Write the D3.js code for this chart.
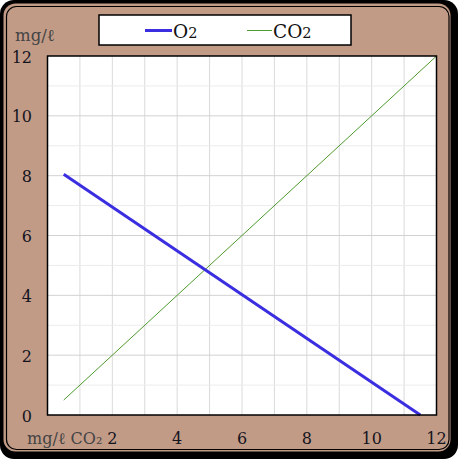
<!DOCTYPE html>
<html><head><meta charset="utf-8">
<script src="https://cdn.jsdelivr.net/npm/d3@7"></script>
<style>html,body{margin:0;padding:0;background:#fff;}svg{display:block;}</style>
</head><body>
<svg id="c" width="458" height="459"></svg>
<script>
const seriesNames = ["O2", "CO2"];
const o2X = [0.5, 11.5];
const o2Y = [8.05, 0];
const co2X = [0.5, 12];
const co2Y = [0.5, 12];
const xTicks = [2, 4, 6, 8, 10, 12];
const yTicks = [0, 2, 4, 6, 8, 10, 12];
const yTitle = "mg/ℓ";
const xTitle = "mg/ℓ CO₂";

const svg = d3.select("#c");
const W = 458, H = 459;
const font = "'DejaVu Serif', serif";

// frame
svg.append("rect").attr("x",0).attr("y",0).attr("width",W).attr("height",H).attr("fill","#fff");
svg.append("rect").attr("x",0).attr("y",0).attr("width",W).attr("height",H).attr("rx",14).attr("fill","#000");
svg.append("rect").attr("x",3.5).attr("y",3.5).attr("width",447).attr("height",448).attr("rx",12).attr("fill","#c29b87");
svg.append("rect").attr("x",6.5).attr("y",6.5).attr("width",442.5).attr("height",443).attr("rx",10)
  .attr("fill","none").attr("stroke","#000").attr("stroke-width",1.2);

const L = 47.5, R = 436.5, T = 56, B = 415;
const x = d3.scaleLinear().domain([0,12]).range([L,R]);
const y = d3.scaleLinear().domain([0,12]).range([B,T]);

svg.append("rect").attr("x",L).attr("y",T).attr("width",R-L).attr("height",B-T).attr("fill","#fff");

const g = svg.append("g");
// grid
g.selectAll(".vg").data(d3.range(1,12)).join("line")
  .attr("x1",d=>x(d)).attr("x2",d=>x(d)).attr("y1",T).attr("y2",B)
  .attr("stroke","#dadada").attr("stroke-width",1);
g.selectAll(".hg").data(d3.range(1,12)).join("line")
  .attr("y1",d=>y(d)).attr("y2",d=>y(d)).attr("x1",L).attr("x2",R)
  .attr("stroke",d=>d%2===0?"#d2d2d2":"#ececec").attr("stroke-width",1);

// lines
const line = d3.line().x(d=>x(d[0])).y(d=>y(d[1]));
const co2 = co2X.map((v,i)=>[v,co2Y[i]]);
const o2 = o2X.map((v,i)=>[v,o2Y[i]]);
g.append("path").attr("d",line(co2)).attr("fill","none").attr("stroke","#4e9a2e").attr("stroke-width",1);
g.append("path").attr("d",line(o2)).attr("fill","none").attr("stroke","#3a2ee0").attr("stroke-width",3);

svg.append("rect").attr("x",L).attr("y",T).attr("width",R-L).attr("height",B-T)
  .attr("fill","none").attr("stroke","#000").attr("stroke-width",1.5);

// y ticks
svg.selectAll(".yt").data(yTicks).join("text")
  .attr("x",32).attr("y",d=>y(d)+6.5).attr("text-anchor","end")
  .attr("font-family",font).attr("font-size",16).attr("fill","#14141e").text(d=>d);
// x ticks
svg.selectAll(".xt").data(xTicks).join("text")
  .attr("x",d=>x(d)).attr("y",444).attr("text-anchor","middle")
  .attr("font-family",font).attr("font-size",16).attr("fill","#14141e").text(d=>d);

svg.append("text").attr("x",15).attr("y",41).attr("font-family",font).attr("font-size",16.5)
  .attr("fill","#444").text(yTitle);
svg.append("text").attr("x",27).attr("y",444).attr("font-family",font).attr("font-size",16)
  .attr("fill","#444").text(xTitle);

// legend
svg.append("rect").attr("x",99).attr("y",15).attr("width",252).attr("height",30)
  .attr("fill","#fff").attr("stroke","#000").attr("stroke-width",1.5);
const leg = [{n:seriesNames[0],x1:145,x2:172,c:"#3a2ee0",w:3},{n:seriesNames[1],x1:247,x2:272,c:"#4e9a2e",w:1}];
leg.forEach(l=>{
  svg.append("line").attr("x1",l.x1).attr("x2",l.x2).attr("y1",30.5).attr("y2",30.5)
    .attr("stroke",l.c).attr("stroke-width",l.w);
  const t = svg.append("text").attr("x",l.x2+1).attr("y",37.5).attr("font-family",font)
    .attr("font-size",18.5).attr("fill","#111");
  t.append("tspan").text(l.n.slice(0,-1));
  t.append("tspan").attr("font-size",14.5).text(l.n.slice(-1));
});
</script>
</body></html>
